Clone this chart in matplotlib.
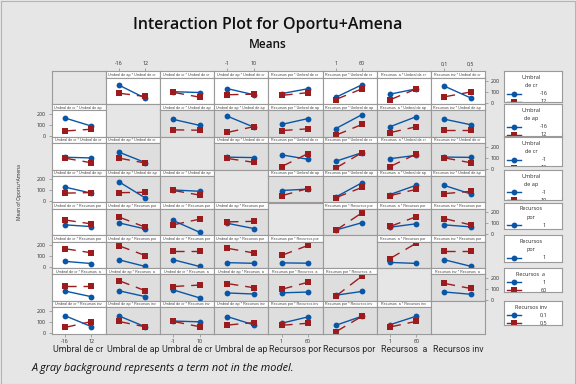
import numpy as np
import matplotlib
matplotlib.use('Agg')
import matplotlib.pyplot as plt
from matplotlib.patches import Rectangle

plt.rcParams['font.family'] = ['Open Sans', 'DejaVu Sans']

W, H = 576, 384
BLUE = '#0a56a6'
RED = '#9c1c1e'
EDGE = '#9a9a9a'
TXT = '#2a2a2a'

# factors (rows / columns of the matrix) and their two levels
FACTORS = ['Umbral de cr', 'Umbral de ap', 'Umbral de cr', 'Umbral de ap',
           'Recursos por', 'Recursos por', 'Recursos  a', 'Recursos inv']
LEVELS = [('-16', '12'), ('-16', '12'), ('-1', '10'), ('-1', '10'),
          ('1', '60'), ('1', '60'), ('1', '60'), ('0,1', '0,5')]
LEGEND_TITLES = ['Umbral\nde cr', 'Umbral\nde ap', 'Umbral\nde cr', 'Umbral\nde ap',
                 'Recursos\npor', 'Recursos\npor', 'Recursos  a', 'Recursos inv']

# mean Oportu+Amena for factor pair (i, j), i < j
# order: (i lo, j lo), (i lo, j hi), (i hi, j lo), (i hi, j hi)
M_01 = [163, 43, 89, 59]
M_02 = [103, 95, 97, 53]
M_03 = [131, 75, 75, 80]
M_04 = [85, 130, 69, 94]
M_05 = [51, 167, 31, 130]
M_06 = [80, 129, 28, 129]
M_07 = [155, 46, 55, 100]
M_12 = [150, 95, 54, 50]
M_13 = [179, 79, 30, 83]
M_14 = [103, 157, 47, 63]
M_15 = [65, 194, 4, 104]
M_16 = [82, 175, 28, 82]
M_17 = [152, 101, 52, 52]
M_23 = [104, 100, 92, 57]
M_24 = [125, 85, 17, 137]
M_25 = [66, 146, 4, 146]
M_26 = [90, 121, 17, 134]
M_27 = [105, 102, 98, 53]
M_34 = [99, 112, 51, 117]
M_35 = [39, 171, 33, 128]
M_36 = [62, 148, 52, 110]
M_37 = [146, 68, 70, 91]
M_45 = [37, 105, 34, 197]
M_46 = [63, 95, 70, 160]
M_47 = [85, 66, 143, 85]
M_56 = [41, 32, 76, 218]
M_57 = [66, 6, 150, 150]
M_67 = [71, 50, 150, 103]

PAIR_MEANS = {(0, 1): M_01, (0, 2): M_02, (0, 3): M_03, (0, 4): M_04, (0, 5): M_05,
              (0, 6): M_06, (0, 7): M_07, (1, 2): M_12, (1, 3): M_13, (1, 4): M_14,
              (1, 5): M_15, (1, 6): M_16, (1, 7): M_17, (2, 3): M_23, (2, 4): M_24,
              (2, 5): M_25, (2, 6): M_26, (2, 7): M_27, (3, 4): M_34, (3, 5): M_35,
              (3, 6): M_36, (3, 7): M_37, (4, 5): M_45, (4, 6): M_46, (4, 7): M_47,
              (5, 6): M_56, (5, 7): M_57, (6, 7): M_67}

# only the interactions with the first factor are in the model
IN_MODEL = [(0, k) for k in range(1, 8)]

# layout in pixels
X0, Y0 = 51.5, 71.3
CW, CH = 54.2, 32.8
HDR = 6.2
N = len(FACTORS)


def px_axes(fig, x, y, w, h):
    return fig.add_axes([x / W, 1 - (y + h) / H, w / W, h / H])


def cell_values(r, c):
    i, j = min(r, c), max(r, c)
    m = np.array(PAIR_MEANS[(i, j)]).reshape(2, 2)
    if r == i:
        return m[0], m[1]
    return m[:, 0], m[:, 1]


def style_spines(ax):
    for s in ax.spines.values():
        s.set_color(EDGE)
        s.set_linewidth(0.8)


fig = plt.figure(figsize=(W / 100, H / 100), dpi=100)
fig.patch.set_facecolor('#e6e6e6')
fig.patches.append(Rectangle((0.5 / W, 0.5 / H), 1 - 1.5 / W, 1 - 1.5 / H,
                             transform=fig.transFigure, fill=False,
                             edgecolor='#b4b4b4', lw=0.8))

for r in range(N):
    for c in range(N):
        x = X0 + c * CW
        y = Y0 + r * CH
        if r == c:
            ax = px_axes(fig, x, y, CW, CH)
            ax.set_facecolor('#e6e6e6')
            ax.set_xticks([])
            ax.set_yticks([])
            style_spines(ax)
            continue

        # header strip with the term name
        hax = px_axes(fig, x, y, CW, HDR)
        hax.set_facecolor('white')
        hax.set_xlim(0.5, 2.55)
        hax.set_ylim(0, 1)
        hax.set_yticks([])
        style_spines(hax)
        hax.text(1.5, 0.45, f'{FACTORS[c]} * {FACTORS[r]}', ha='center', va='center',
                 fontsize=2.7, color='#444444', clip_on=True,
                 family=['Liberation Sans', 'DejaVu Sans'])
        if r == 0 and c % 2 == 1:
            hax.xaxis.tick_top()
            hax.set_xticks([1, 2])
            hax.set_xticklabels(LEVELS[c])
            hax.tick_params(axis='x', length=2.5, width=0.6, color=EDGE,
                            labelsize=3.8, pad=1, labelcolor=TXT)
        else:
            hax.set_xticks([])

        ax = px_axes(fig, x, y + HDR, CW, CH - HDR)
        pair = (min(r, c), max(r, c))
        ax.set_facecolor('white' if pair in IN_MODEL else '#dedede')
        style_spines(ax)
        blue, red = cell_values(r, c)
        ax.plot([1, 2], blue, color=BLUE, lw=1.0, marker='o', ms=4.2,
                markeredgewidth=0)
        ax.plot([1, 2], red, color=RED, lw=1.0, marker='s', ms=4.6,
                markeredgewidth=0, dashes=(8, 5))
        ax.set_xlim(0.5, 2.55)
        ax.set_ylim(-11, 233)

        if r == N - 1 and c % 2 == 0:
            ax.set_xticks([1, 2])
            ax.set_xticklabels(LEVELS[c])
            ax.tick_params(axis='x', length=2.5, width=0.6, color=EDGE,
                           labelsize=3.8, pad=1, labelcolor=TXT)
        else:
            ax.set_xticks([])

        if r % 2 == 1 and c == 0:
            ax.set_yticks([0, 100, 200])
            ax.tick_params(axis='y', length=2.5, width=0.6, color=EDGE,
                           labelsize=3.8, pad=1.5, labelcolor=TXT)
        elif r % 2 == 0 and c == N - 1:
            ax.yaxis.tick_right()
            ax.set_yticks([0, 100, 200])
            ax.tick_params(axis='y', length=2.5, width=0.6, color=EDGE,
                           labelsize=3.8, pad=1.5, labelcolor=TXT)
        else:
            ax.set_yticks([])

# column labels under the matrix
for c in range(N):
    fig.text((X0 + (c + 0.5) * CW) / W, 1 - 350 / H, FACTORS[c], ha='center',
             va='center', fontsize=6.4, color=TXT, family=['Roboto', 'DejaVu Sans'])

# legends, one per row factor
LEG_H = [30.8, 31.5, 29.5, 30.0, 26.3, 26.3, 24.4, 23.6]
for r in range(N):
    lax = px_axes(fig, 504, Y0 + r * CH, 58, LEG_H[r])
    lax.set_facecolor('white')
    lax.set_xlim(0, 58)
    lax.set_ylim(LEG_H[r], 0)
    lax.set_xticks([])
    lax.set_yticks([])
    style_spines(lax)
    lines = LEGEND_TITLES[r].split('\n')
    ty = 6.3
    for ln in lines:
        lax.text(27, ty, ln, ha='center', va='center', fontsize=4.0, color=TXT,
                 clip_on=True)
        ty += 8.3
    ey = ty - 0.3
    lax.plot([3, 10, 17], [ey, ey, ey], color=BLUE, lw=1.0, marker='o', ms=4.2,
             markevery=[1], markeredgewidth=0, clip_on=True)
    lax.text(40, ey, LEVELS[r][0], ha='center', va='center', fontsize=4.0,
             color=TXT, clip_on=True)
    ey2 = ey + 8
    lax.plot([3, 10, 17], [ey2, ey2, ey2], color=RED, lw=1.0, marker='s', ms=4.6,
             markevery=[1], markeredgewidth=0, clip_on=True)
    lax.text(40, ey2, LEVELS[r][1], ha='center', va='center', fontsize=4.0,
             color=TXT, clip_on=True)

fig.text(268 / W, 1 - 25 / H, 'Interaction Plot for Oportu+Amena', ha='center',
         va='center', fontsize=11.5, color='#111111', fontweight='semibold')
fig.text(268 / W, 1 - 44 / H, 'Means', ha='center', va='center', fontsize=8.5,
         color='#111111', fontweight='semibold')
fig.text(19 / W, 1 - 192 / H, 'Mean of Oportu+Amena', rotation=90, ha='center',
         va='center', fontsize=3.6, color=TXT)
fig.text(32 / W, 1 - 369 / H, 'A gray background represents a term not in the model.',
         ha='left', va='center', fontsize=7.8, style='italic', color='#111111')

fig.savefig('out.png', dpi=100, facecolor=fig.get_facecolor())
